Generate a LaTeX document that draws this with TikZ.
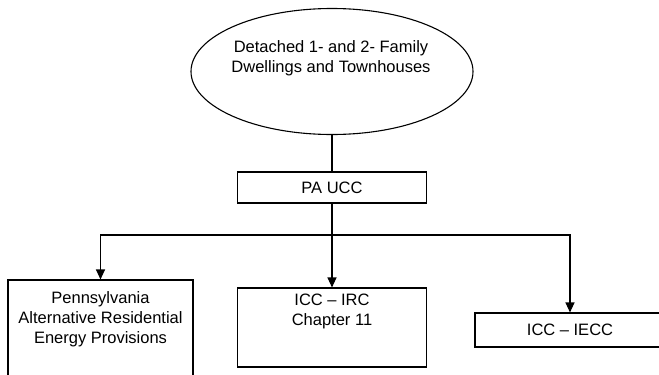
\documentclass[tikz,border=0pt]{standalone}
\usepackage{fontspec}
\setmainfont{Liberation Sans}
\usetikzlibrary{shapes.geometric,arrows.meta}
\begin{document}
\begin{tikzpicture}[x=1pt,y=-1pt,
  line width=1.1pt,
  txt/.style={font=\fontsize{16.5}{20}\selectfont, align=center, inner sep=0pt},
  boxnode/.style={draw, rectangle, inner sep=0pt},
  arr/.style={-{Triangle[length=10pt,width=9pt]}}]
\useasboundingbox (0,0) rectangle (659,375);
\clip (0,0) rectangle (659,375);
% top ellipse
\node[draw, ellipse, minimum width=282pt, minimum height=126pt, inner sep=0pt] (ell) at (332,71.5) {};
\node[txt] (elltxt) at (331,58) {Detached 1- and 2- Family\\Dwellings and Townhouses};
% PA UCC
\node[boxnode, minimum width=189pt, minimum height=31pt, txt] (pa) at (332,187.5) {PA UCC};
% bottom boxes
\node[boxnode, minimum width=185pt, minimum height=100pt] (par) at (100.5,330) {};
\node[txt] (partxt) at (100.5,319) {Pennsylvania\\Alternative Residential\\Energy Provisions};
\node[boxnode, minimum width=189pt, minimum height=79pt] (irc) at (332,327.5) {};
\node[txt] (irctxt) at (332,311) {ICC -- IRC\\Chapter 11};
\node[boxnode, minimum width=190pt, minimum height=34pt, txt] (iecc) at (570,330) {ICC -- IECC};
% connectors
\coordinate (bus) at (332,235);
\draw (ell.south) -- (pa.north);
\draw[arr] (pa.south) -- (irc.north);
\draw[arr] (bus) -| (par.north);
\draw[arr] (bus) -| (iecc.north);
\end{tikzpicture}
\end{document}
